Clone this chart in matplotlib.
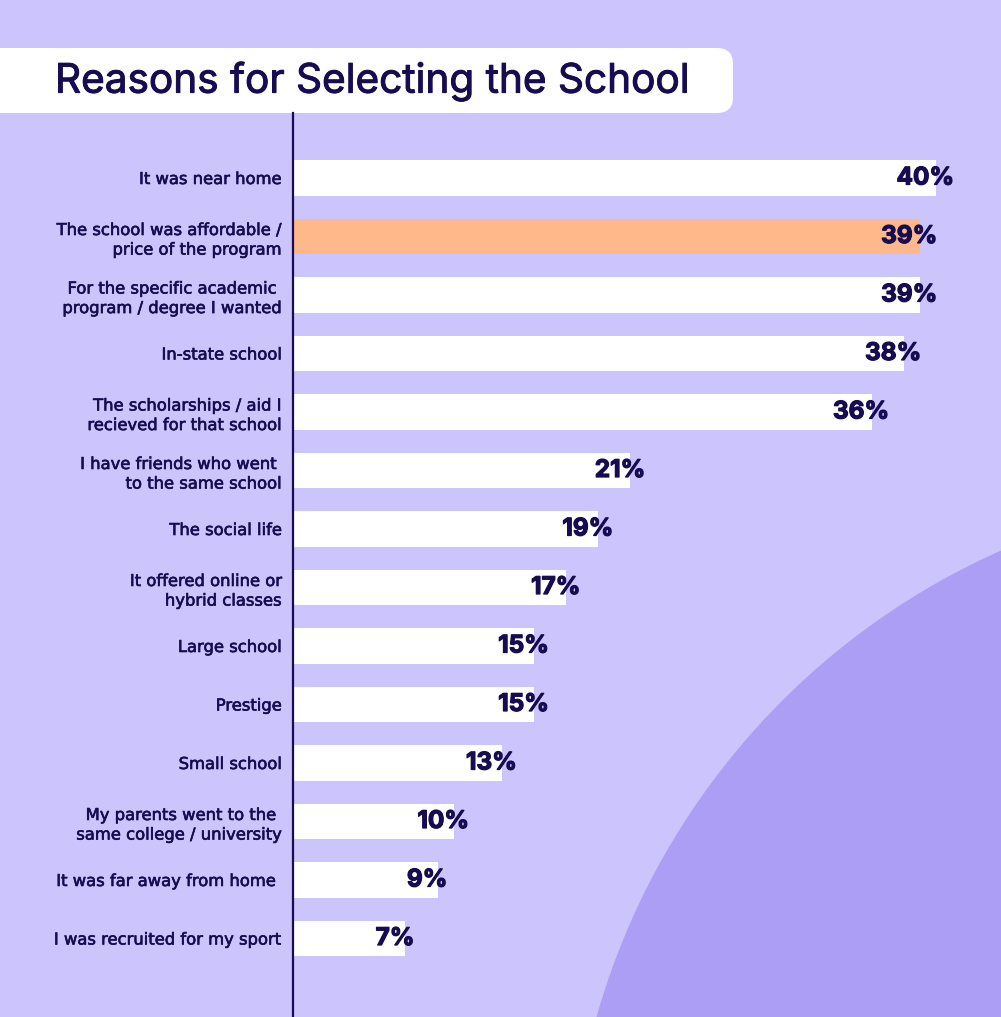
import matplotlib.pyplot as plt
import matplotlib.patheffects as pe
from matplotlib.patches import Circle, FancyBboxPatch

reasons = [
    "It was near home",
    "The school was affordable /\nprice of the program",
    "For the specific academic \nprogram / degree I wanted",
    "In-state school",
    "The scholarships / aid I\nrecieved for that school",
    "I have friends who went \nto the same school",
    "The social life",
    "It offered online or\nhybrid classes",
    "Large school",
    "Prestige",
    "Small school",
    "My parents went to the \nsame college / university",
    "It was far away from home ",
    "I was recruited for my sport",
]
shares = [40, 39, 39, 38, 36, 21, 19, 17, 15, 15, 13, 10, 9, 7]
highlight = 1

bg = "#CCC4FC"
blob = "#AC9EF5"
navy = "#170C52"
orange = "#FFB88A"

W, H = 1001, 1017
fig = plt.figure(figsize=(W / 100, H / 100), dpi=100, facecolor=bg)

# background decoration in pixel coords
deco = fig.add_axes([0, 0, 1, 1])
deco.set_xlim(0, W)
deco.set_ylim(H, 0)
deco.axis("off")
deco.add_patch(Circle((1296, 1215), 727, color=blob, lw=0))
deco.add_patch(FancyBboxPatch((-40, 48), 773, 65, boxstyle="round,pad=0,rounding_size=16",
                              fc="white", ec="none"))
deco.text(55, 81, "Reasons for Selecting the School", fontsize=29.2, color=navy,
          family=["Inter", "DejaVu Sans"], va="center", ha="left",
          path_effects=[pe.withStroke(linewidth=0.7, foreground=navy)])

# bar chart
left, top = 293, 113
ax = fig.add_axes([left / W, 0, (W - left) / W, (H - top) / H])
ax.set_facecolor("none")
px_per_pct = 16.07
ax.set_xlim(0, (W - left) / px_per_pct)
step = 58.5
ymin = -(178 - top) / step
ax.set_ylim(ymin + (H - top) / step, ymin)

colors = ["white"] * len(shares)
colors[highlight] = orange
ax.barh(range(len(shares)), shares, height=0.615, color=colors, lw=0)

for i, v in enumerate(shares):
    ax.annotate(f"{v}%", (v, i), xytext=(-7.5, 0), textcoords="offset points",
                ha="center", va="center", fontsize=17.5, fontweight="bold",
                color=navy, family=["Inter", "DejaVu Sans"],
                path_effects=[pe.withStroke(linewidth=0.9, foreground=navy)])

ax.set_yticks(range(len(reasons)))
ax.set_yticklabels(reasons, fontsize=11.8, color=navy, linespacing=1.38,
                   family=["DejaVu Sans"])
for lab in ax.get_yticklabels():
    lab.set_path_effects([pe.withStroke(linewidth=0.45, foreground=navy)])
ax.tick_params(axis="y", length=0, pad=8)
ax.set_xticks([])
for s in ["top", "right", "bottom"]:
    ax.spines[s].set_visible(False)
ax.spines["left"].set_color(navy)
ax.spines["left"].set_linewidth(1.6)

fig.savefig("out.png", dpi=100, facecolor=bg)
